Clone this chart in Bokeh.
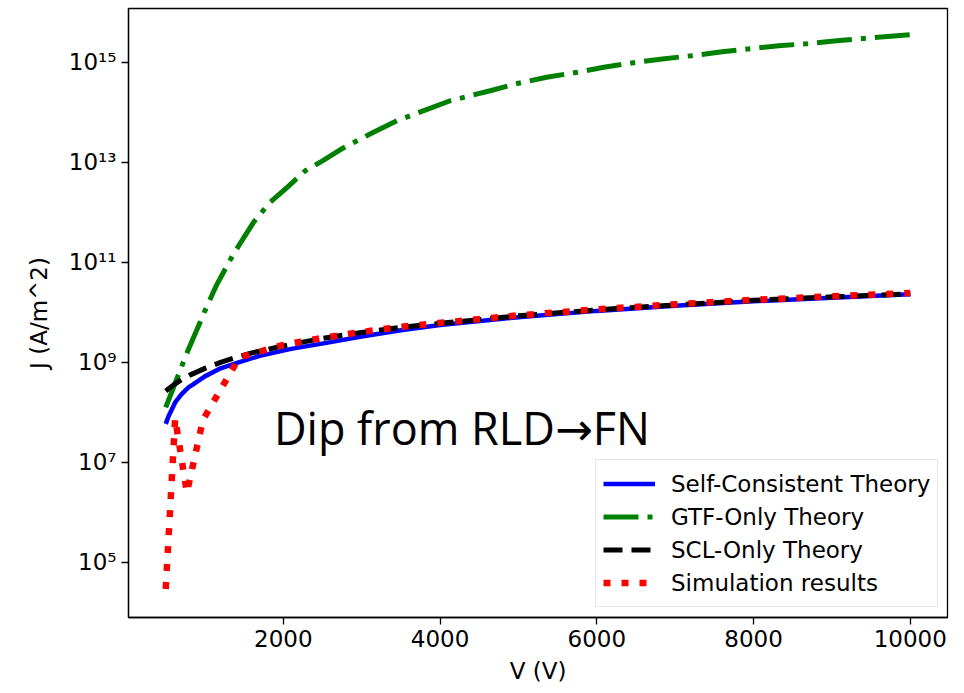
from bokeh.plotting import figure
from bokeh.models import Range1d, FixedTicker, Label, Legend, LegendItem
from bokeh.embed import file_html
from bokeh.resources import INLINE

# ---------------- data ----------------
V_sc = [500, 535, 620, 700, 790, 850, 1000, 1200, 1430, 1700, 2100, 2550, 3000,
        3500, 4000, 5000, 6000, 7000, 8000, 9000, 10000]
J_sc = [5.9e7, 8.3e7, 1.58e8, 2.29e8, 3.16e8, 3.63e8, 5.25e8, 7.59e8, 1.0e9, 1.35e9,
        1.86e9, 2.45e9, 3.3e9, 4.4e9, 5.6e9, 8.0e9, 1.07e10, 1.35e10, 1.66e10,
        1.95e10, 2.29e10]

V_gtf = [500, 766, 1000, 1150, 1330, 1450, 1620, 1830, 2050, 2280, 2500, 2760, 3100,
         3450, 3750, 4130, 4640, 5000, 5360, 5750, 6090, 6470, 6810, 7210, 7600, 7960,
         8320, 8680, 9060, 9450, 10000]
J_gtf = [1.26e8, 1.48e9, 1.07e10, 3.55e10, 1.17e11, 2.40e11, 6.31e11, 1.58e12, 3.16e12,
         6.76e12, 1.07e13, 1.91e13, 3.63e13, 6.76e13, 1.02e14, 1.70e14, 2.69e14, 3.80e14,
         5.01e14, 6.31e14, 7.94e14, 9.77e14, 1.15e15, 1.35e15, 1.62e15, 1.86e15, 2.14e15,
         2.34e15, 2.69e15, 3.02e15, 3.55e15]

V_scl = [500, 600, 700, 800, 900, 1000, 1200, 1400, 1600, 1800, 2000, 2500, 3000, 3500,
         4000, 5000, 6000, 7000, 8000, 9000, 10000]
J_scl = [2.69e8, 3.55e8, 4.47e8, 5.5e8, 6.46e8, 7.59e8, 1.0e9, 1.26e9, 1.55e9, 1.82e9,
         2.14e9, 3.02e9, 3.98e9, 5.01e9, 6.03e9, 8.51e9, 1.12e10, 1.41e10, 1.74e10,
         2.04e10, 2.34e10]

V_sim = [500, 620, 770, 975, 1440, 2000, 2500, 3000, 3500, 4000, 5000, 6000, 7000, 8000,
         9000, 10000]
J_sim = [2.95e4, 7.6e7, 2.5e6, 7.08e7, 1.26e9, 2.24e9, 3.09e9, 4.07e9, 5.13e9, 6.17e9,
         8.71e9, 1.15e10, 1.45e10, 1.78e10, 2.09e10, 2.45e10]

labels = ["Self-Consistent Theory", "GTF-Only Theory", "SCL-Only Theory", "Simulation results"]
x_ticks = [2000, 4000, 6000, 8000, 10000]
y_ticks = [1e5, 1e7, 1e9, 1e11, 1e13, 1e15]
y_tick_labels = ["10\u2075", "10\u2077", "10\u2079", "10\u00b9\u00b9", "10\u00b9\u00b3", "10\u00b9\u2075"]
annotation = "Dip from RLD\u2192FN"

FONT = "DejaVu Sans"
FS = "23px"

p = figure(width=964, height=693, y_axis_type="log",
           x_range=Range1d(25, 10475), y_range=Range1d(10 ** 3.9, 10 ** 16.074),
           output_backend="svg", toolbar_location=None,
           min_border_left=128, min_border_right=17, min_border_top=8, min_border_bottom=76)

p.background_fill_color = "white"
p.border_fill_color = "white"
p.outline_line_color = "black"
p.outline_line_width = 1.3
p.xgrid.visible = False
p.ygrid.visible = False

r1 = p.line(V_sc, J_sc, line_color="#0000ff", line_width=4.5)
r2 = p.line(V_gtf, J_gtf, line_color="#008000", line_width=5, line_dash="35 9 5 9")
r3 = p.line(V_scl, J_scl, line_color="black", line_width=5, line_dash="19 9")
r4 = p.line(V_sim, J_sim, line_color="#ff0000", line_width=6.5, line_dash="7 11")

for ax in (p.xaxis[0], p.yaxis[0]):
    ax.axis_line_color = "black"
    ax.axis_line_width = 1.3
    ax.major_tick_line_color = "black"
    ax.major_tick_line_width = 1.3
    ax.major_tick_out = 7
    ax.major_tick_in = 0
    ax.minor_tick_line_color = None
    ax.major_label_text_font = FONT
    ax.major_label_text_font_size = FS
    ax.major_label_text_color = "black"
    ax.axis_label_text_font = FONT
    ax.axis_label_text_font_size = FS
    ax.axis_label_text_font_style = "normal"
    ax.axis_label_text_color = "black"
    ax.major_label_standoff = 5

p.xaxis.ticker = FixedTicker(ticks=x_ticks)
p.yaxis.ticker = FixedTicker(ticks=y_ticks)
p.yaxis.major_label_overrides = {t: s for t, s in zip(y_ticks, y_tick_labels)}
p.xaxis.axis_label = "V (V)"
p.yaxis.axis_label = "J (A/m^2)"
p.xaxis.axis_label_standoff = 8
p.yaxis.axis_label_standoff = 14

legend = Legend(items=[LegendItem(label=l, renderers=[r]) for l, r in zip(labels, [r1, r2, r3, r4])],
                location=(467, 10))
legend.margin = 0
legend.padding = 7
legend.spacing = 0
legend.glyph_width = 52
legend.glyph_height = 33
legend.label_height = 33
legend.label_standoff = 16
legend.label_text_font = FONT
legend.label_text_font_size = FS
legend.label_text_color = "black"
legend.border_line_color = "#cccccc"
legend.border_line_width = 1.3
legend.background_fill_color = "white"
legend.background_fill_alpha = 0.8
p.add_layout(legend, "center")

p.add_layout(Label(x=1880, y=4.94e7, text=annotation, text_font="'Open Sans', 'DejaVu Sans'",
                   text_font_size="45px", text_color="black", text_baseline="alphabetic"))

open("out.html", "w").write(file_html(p, INLINE))
